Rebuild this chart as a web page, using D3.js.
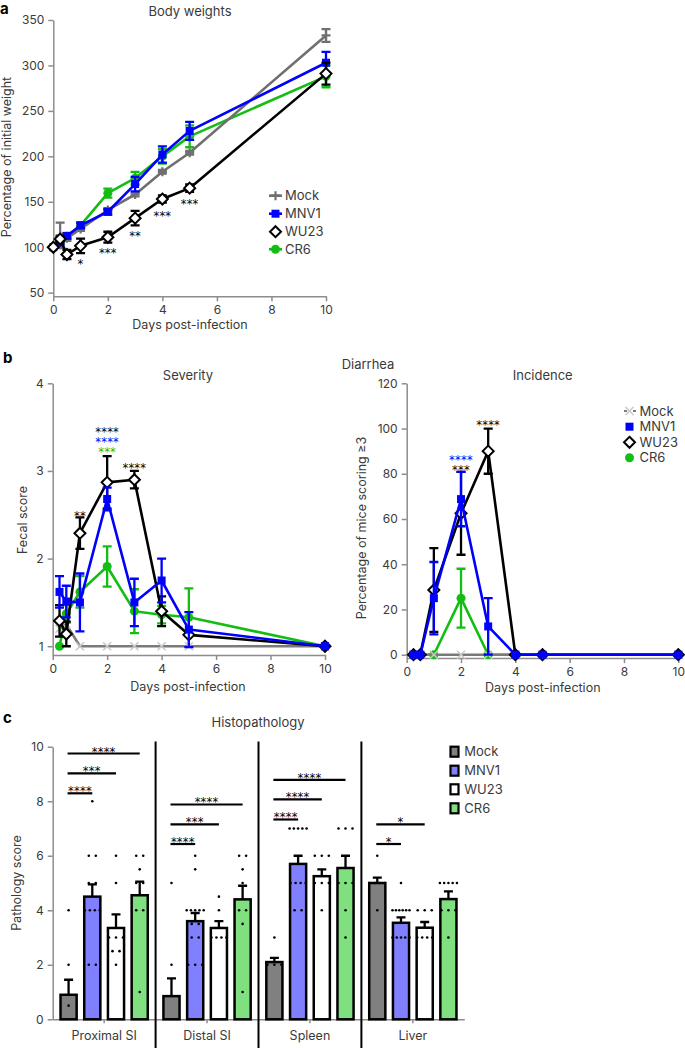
<!DOCTYPE html>
<html><head><meta charset="utf-8">
<script src="https://cdn.jsdelivr.net/npm/d3@7"></script>
<style>
body{margin:0;background:#fff}
svg text{font-family:Inter,"Noto Sans",sans-serif}
</style></head>
<body><svg id="chart" width="685" height="1048"></svg>
<script>
// ---------- Panel a: body weights ----------
const bwDays=[0,0.25,0.5,1,2,3,4,5,10];
const bwMock=[100,113,110,120,141,158,183,204,333];
const bwMockErr=[0,14,3,2,2,2,2,2,7];
const bwMNV1=[100,105,112.5,124,139,169.5,202,228,303];
const bwMNV1Err=[0,2,3,3,3,8,9,10,12];
const bwWU23=[100,109,92,101.5,111,132,153,165,291];
const bwWU23Err=[0,3,5,8,6,8,4,4,12];
const bwCR6=[100,106,112,124,159.5,176,200,222,288];
const bwCR6Err=[0,2,3,3,5,7,8,12,12];
const bwStarDays=[1,2,3,4,5];
const bwStarVals=[85.3,97,115.7,138,151.3];
const bwStarLabels=["*","***","**","***","***"];
const bwYTicks=[50,100,150,200,250,300,350];
const xTicks=[0,2,4,6,8,10];

// ---------- Panel b: diarrhea ----------
const dDays=[0.25,0.5,1,2,3,4,5,10];
const sevMock=[1.2,1.25,1,1,1,1,1,1];
const sevMockErr=[0,0,0,0,0,0,0,0];
const sevMNV1=[1.62,1.51,1.5,2.68,1.5,1.75,1.19,1];
const sevMNV1Err=[0.18,0.18,0.33,0.13,0.27,0.25,0.2,0];
const sevWU23=[1.29,1.14,2.29,2.87,2.9,1.4,1.13,1];
const sevWU23Err=[0.18,0.14,0.18,0.3,0.1,0.17,0,0];
const sevCR6=[1.0,1.37,1.62,1.91,1.4,1.36,1.33,1];
const sevCR6Err=[0,0.1,0.18,0.23,0.25,0.1,0.33,0];
const sevYTicks=[1,2,3,4];
const sevStarDays=[1,2,2,2,3];
const sevStarVals=[2.53,3.48,3.37,3.26,3.07];
const sevStarLabels=["**","****","****","***","****"];
const sevStarSeries=["WU23","WU23","MNV1","CR6","WU23"];

const incMock=[0,0,0,0,0,0,0,0];
const incMockErr=[0,0,0,0,0,0,0,0];
const incMNV1=[0,0,25,68.8,12.5,0,0,0];
const incMNV1Err=[0,0,16,12,12.5,0,0,0];
const incWU23=[0,0,28.6,62.5,90,0,0,0];
const incWU23Err=[0,0,18.5,18.3,10,0,0,0];
const incCR6=[0,0,0,25,0,0,0,0];
const incCR6Err=[0,0,0,13,0,0,0,0];
const incYTicks=[0,20,40,60,80,100,120];
const incStarDays=[2,2,3];
const incStarVals=[87.5,83.4,103];
const incStarLabels=["****","***","****"];
const incStarSeries=["MNV1","WU23","WU23"];

// ---------- Panel c: histopathology ----------
const histoGroups=["Proximal SI","Distal SI","Spleen","Liver"];
const histoSeries=["Mock","MNV1","WU23","CR6"];
const meanMock=[0.9,0.85,2.1,5.0];
const semMock=[0.55,0.65,0.15,0.2];
const meanMNV1=[4.5,3.6,5.7,3.54];
const semMNV1=[0.45,0.3,0.3,0.2];
const meanWU23=[3.35,3.35,5.25,3.36];
const semWU23=[0.5,0.25,0.25,0.21];
const meanCR6=[4.55,4.4,5.55,4.41];
const semCR6=[0.5,0.5,0.45,0.28];
const dotsMock=[[4,2,0.5],[5,2],[3,2,2,2],[6,5,5,5,5,4]];
const dotsMNV1=[[8,6,6,5,5,4,4,4,4,2,2],[6,5.5,4,4,4,4,4,3.5,3.5,3,3,2,2,2],[7,7,7,7,7,5,5,5,5,4,4],[5,4,4,4,4,4,4,3,3,3,3,3]];
const dotsWU23=[[6,5,3,3,3,2.5,2.5,2],[4.5,4,3,3,3,3],[6,6,6,5,5,5,4],[4,4,4,3,3,3,3]];
const dotsCR6=[[6,6,5.5,5,5,4,4,1],[6,6,5.5,5,4,4,3.5,1],[7,7,7,5,5,5,4,3],[5,5,5,5,5,4,4,4,3]];
const histoYTicks=[0,2,4,6,8,10];
// significance: group index, target series index, bracket height, label
const sigGroup=[0,0,0,1,1,1,2,2,2,3,3];
const sigTarget=[1,2,3,1,2,3,1,2,3,1,2];
const sigHeight=[8.29,9.02,9.75,6.43,7.15,7.88,7.33,8.07,8.78,6.43,7.15];
const sigLabel=["****","***","****","****","***","****","****","****","****","*","*"];

// ---------- drawing ----------
const svg=d3.select("#chart");
const AX="#8d8d8d", TXT="#3a3a3a";
const colA={Mock:"#6f6f6f",MNV1:"#0000ff",WU23:"#000000",CR6:"#14bd14"};
const colC={Mock:"#808080",MNV1:"#8080ff",WU23:"#ffffff",CR6:"#80e080"};
const STARFONT="'DejaVu Sans',sans-serif";

function styleAxis(g){
  g.selectAll("path,line").attr("stroke",AX).attr("stroke-width",1.5);
  g.selectAll("text").attr("fill",TXT).style("font-size","12px");
}
function yAxis(scale,x,ticks){
  const g=svg.append("g").attr("transform",`translate(${x},0)`)
    .call(d3.axisLeft(scale).tickValues(ticks).tickFormat(d3.format("d")).tickSize(5).tickSizeOuter(0).tickPadding(4));
  styleAxis(g);return g;
}
function xAxis(scale,y,ticks){
  const g=svg.append("g").attr("transform",`translate(0,${y})`)
    .call(d3.axisBottom(scale).tickValues(ticks).tickFormat(d3.format("d")).tickSize(5).tickSizeOuter(0).tickPadding(4));
  styleAxis(g);return g;
}
function label(x,y,t,opts={}){
  const el=svg.append("text").attr("x",x).attr("y",y).text(t)
    .attr("fill",opts.fill||TXT).attr("text-anchor",opts.anchor||"middle")
    .style("font-size",(opts.size||12.5)+"px");
  if(opts.bold) el.style("font-weight","bold");
  if(opts.rotate) el.attr("transform",`rotate(-90,${x},${y})`);
  return el;
}
function drawMarker(g,type,cx,cy,color){
  if(type==="square"){
    g.append("rect").attr("x",cx-4).attr("y",cy-4).attr("width",8).attr("height",8).attr("fill",color);
  }else if(type==="diamond"){
    g.append("path").attr("d",`M${cx},${cy-5.5}L${cx+5.5},${cy}L${cx},${cy+5.5}L${cx-5.5},${cy}Z`)
      .attr("fill","#fff").attr("stroke","#000").attr("stroke-width",2);
  }else if(type==="circle"){
    g.append("circle").attr("cx",cx).attr("cy",cy).attr("r",4.5).attr("fill",color);
  }else if(type==="plus"){
    g.append("path").attr("d",`M${cx-4.5},${cy}H${cx+4.5}M${cx},${cy-4.5}V${cy+4.5}`)
      .attr("stroke",color).attr("stroke-width",2.2);
  }else if(type==="x"){
    g.append("path").attr("d",`M${cx-4},${cy-4}L${cx+4},${cy+4}M${cx-4},${cy+4}L${cx+4},${cy-4}`)
      .attr("stroke","#c9c9c9").attr("stroke-width",1.6);
  }
}
function drawSeries(xs,ys,days,vals,errs,color,type,lw){
  const g=svg.append("g");
  const pts=days.map((d,i)=>[d,vals[i],errs[i]]);
  g.append("path").datum(pts).attr("fill","none").attr("stroke",color).attr("stroke-width",lw)
    .attr("stroke-linejoin","round")
    .attr("d",d3.line().x(d=>xs(d[0])).y(d=>ys(d[1])));
  const ec=type==="diamond"?"#000":color;
  pts.forEach(p=>{
    if(p[2]>0){
      const x=xs(p[0]),y1=ys(p[1]-p[2]),y2=ys(p[1]+p[2]);
      g.append("path").attr("d",`M${x},${y1}V${y2}M${x-4.5},${y1}H${x+4.5}M${x-4.5},${y2}H${x+4.5}`)
        .attr("stroke",ec).attr("stroke-width",2.3).attr("fill","none");
    }
  });
  pts.forEach(p=>drawMarker(g,type,xs(p[0]),ys(p[1]),color));
}
const starLayer=svg.append("g").style("opacity",0.995);
function starText(x,y,t,color){
  return starLayer.append("text").attr("x",x).attr("y",y).text(t)
    .attr("text-anchor","middle").attr("fill",color)
    .style("font-family",STARFONT).style("font-size","11.5px").style("letter-spacing","0.2px");
}
function stars(xs,ys,days,vals,labels,colors){
  days.forEach((d,i)=>starText(xs(d),ys(vals[i])+7.5,labels[i],colors[i]));
}

// ===== Panel a =====
label(0,14,"a",{anchor:"start",bold:true,size:15,fill:"#000"});
const xa=d3.scaleLinear().domain([0,10]).range([53.3,326]);
const ya=d3.scaleLinear().domain([46,350]).range([296.3,20]);
yAxis(ya,53.3,bwYTicks);
xAxis(xa,296.3,xTicks);
label(190,16,"Body weights",{size:13});
label(190,329,"Days post-infection");
label(11,157,"Percentage of initial weight",{rotate:true});
drawSeries(xa,ya,bwDays,bwCR6,bwCR6Err,colA.CR6,"circle",2.6);
drawSeries(xa,ya,bwDays,bwMock,bwMockErr,colA.Mock,"plus",2.6);
drawSeries(xa,ya,bwDays,bwMNV1,bwMNV1Err,colA.MNV1,"square",2.6);
drawSeries(xa,ya,bwDays,bwWU23,bwWU23Err,colA.WU23,"diamond",2.6);
stars(xa,ya,bwStarDays,bwStarVals,bwStarLabels,bwStarDays.map(()=>"#000"));
// legend a
const legA=[["Mock","plus"],["MNV1","square"],["WU23","diamond"],["CR6","circle"]];
const legAY=[195.7,213.7,231.7,249.3];
legA.forEach((l,i)=>{
  const g=svg.append("g");
  if(l[1]!=="diamond") g.append("line").attr("x1",269).attr("x2",282).attr("y1",legAY[i]).attr("y2",legAY[i])
      .attr("stroke",colA[l[0]]).attr("stroke-width",2.6);
  drawMarker(g,l[1],275.5,legAY[i],colA[l[0]]);
  label(285,legAY[i]+4.5,l[0],{anchor:"start",size:13});
});

// ===== Panel b =====
label(3,363,"b",{anchor:"start",bold:true,size:15,fill:"#000"});
label(368,369,"Diarrhea",{size:13});
const xb=d3.scaleLinear().domain([0,10]).range([52.7,325]);
const yb=d3.scaleLinear().domain([0.9,4]).range([655,383.3]);
yAxis(yb,52.7,sevYTicks);
xAxis(xb,655,xTicks);
label(188,380,"Severity",{size:13});
label(188,691,"Days post-infection");
label(27,520,"Fecal score",{rotate:true});
const colB={Mock:"#7a7a7a",MNV1:"#0000ff",WU23:"#000",CR6:"#14bd14"};
drawSeries(xb,yb,dDays,sevCR6,sevCR6Err,colB.CR6,"circle",2.6);
drawSeries(xb,yb,dDays,sevMock,sevMockErr,colB.Mock,"x",2.6);
drawSeries(xb,yb,dDays,sevWU23,sevWU23Err,colB.WU23,"diamond",2.6);
drawSeries(xb,yb,dDays,sevMNV1,sevMNV1Err,colB.MNV1,"square",2.6);
stars(xb,yb,sevStarDays,sevStarVals,sevStarLabels,sevStarSeries.map(s=>colB[s]));

const xi=d3.scaleLinear().domain([0,10]).range([406.7,678.3]);
const yi=d3.scaleLinear().domain([-1.5,120]).range([658.1,383.3]);
yAxis(yi,406.7,incYTicks);
xAxis(xi,658.1,xTicks);
label(542.7,380,"Incidence",{size:13});
label(542.8,691.5,"Days post-infection");
label(366,528,"Percentage of mice scoring \u22653",{rotate:true});
drawSeries(xi,yi,dDays,incCR6,incCR6Err,colB.CR6,"circle",2.6);
drawSeries(xi,yi,dDays,incMock,incMockErr,colB.Mock,"x",2.6);
drawSeries(xi,yi,dDays,incWU23,incWU23Err,colB.WU23,"diamond",2.6);
drawSeries(xi,yi,dDays,incMNV1,incMNV1Err,colB.MNV1,"square",2.6);
stars(xi,yi,incStarDays,incStarVals,incStarLabels,incStarSeries.map(s=>colB[s]));
// legend b
const legB=[["Mock","x"],["MNV1","square"],["WU23","diamond"],["CR6","circle"]];
const legBY=[411,426.7,442.3,457.7];
legB.forEach((l,i)=>{
  const g=svg.append("g");
  if(l[1]==="x") g.append("line").attr("x1",624).attr("x2",636).attr("y1",legBY[i]).attr("y2",legBY[i])
      .attr("stroke",colB.Mock).attr("stroke-width",2).attr("stroke-dasharray","3,6");
  drawMarker(g,l[1],629.5,legBY[i],colB[l[0]]);
  label(639.5,legBY[i]+4.5,l[0],{anchor:"start",size:13});
});

// ===== Panel c =====
label(3,723,"c",{anchor:"start",bold:true,size:15,fill:"#000"});
label(258,727,"Histopathology",{size:13});
const xc=d3.scaleBand().domain(histoGroups).range([52.7,464.3]);
const xcs=d3.scaleBand().domain(histoSeries).range([0,xc.bandwidth()]).paddingInner(0.32).paddingOuter(0.33);
const yc=d3.scaleLinear().domain([0,10]).range([1019.3,746.7]);
yAxis(yc,52.7,histoYTicks);
const gx=svg.append("g").attr("transform","translate(0,1019.3)")
  .call(d3.axisBottom(xc).tickSize(4).tickSizeOuter(0).tickPadding(8));
styleAxis(gx);
gx.selectAll("text").style("font-size","12.5px");
label(21,883,"Pathology score",{rotate:true});
// separators
histoGroups.slice(1).forEach(gname=>{
  svg.append("line").attr("x1",xc(gname)).attr("x2",xc(gname)).attr("y1",741.5).attr("y2",1048)
    .attr("stroke","#000").attr("stroke-width",2);
});
const means={Mock:meanMock,MNV1:meanMNV1,WU23:meanWU23,CR6:meanCR6};
const sems={Mock:semMock,MNV1:semMNV1,WU23:semWU23,CR6:semCR6};
const dots={Mock:dotsMock,MNV1:dotsMNV1,WU23:dotsWU23,CR6:dotsCR6};
histoGroups.forEach((gname,gi)=>{
  histoSeries.forEach(s=>{
    const x0=xc(gname)+xcs(s), bw=xcs.bandwidth(), cx=x0+bw/2;
    const m=means[s][gi], e=sems[s][gi];
    svg.append("path").attr("d",`M${cx},${yc(m)}V${yc(m+e)}M${cx-4.5},${yc(m+e)}H${cx+4.5}`)
      .attr("stroke","#000").attr("stroke-width",2.3);
    svg.append("rect").attr("x",x0).attr("y",yc(m)).attr("width",bw).attr("height",yc(0)-yc(m))
      .attr("fill",colC[s]).attr("stroke","#000").attr("stroke-width",2.5);
    const counts=d3.rollup(dots[s][gi],v=>v.length,d=>d);
    counts.forEach((n,v)=>{
      const sp=n<=3?7:Math.min(5,17/(n-1));
      for(let k=0;k<n;k++){
        svg.append("circle").attr("cx",cx+(k-(n-1)/2)*sp).attr("cy",yc(v)).attr("r",1.3).attr("fill","#000");
      }
    });
  });
});
// significance brackets (stars drawn on the star layer, raised to the top)
sigGroup.forEach((gi,i)=>{
  const gname=histoGroups[gi];
  const xA=xc(gname)+xcs("Mock")+xcs.bandwidth()/2-1;
  const xB=xc(gname)+xcs(histoSeries[sigTarget[i]])+xcs.bandwidth()/2;
  const y=yc(sigHeight[i]);
  svg.append("line").attr("x1",xA).attr("x2",xB).attr("y1",y).attr("y2",y).attr("stroke","#000").attr("stroke-width",2.2);
  starText((xA+xB)/2,y+2,sigLabel[i],"#000");
});
starLayer.raise();
// legend c
const legCY=[751.7,770.7,789.3,808.3];
histoSeries.forEach((s,i)=>{
  svg.append("rect").attr("x",450.5).attr("y",legCY[i]-5).attr("width",8).attr("height",10)
    .attr("fill",colC[s]).attr("stroke","#000").attr("stroke-width",2.2);
  label(464.3,legCY[i]+4.5,s,{anchor:"start",size:13});
});
</script></body></html>
